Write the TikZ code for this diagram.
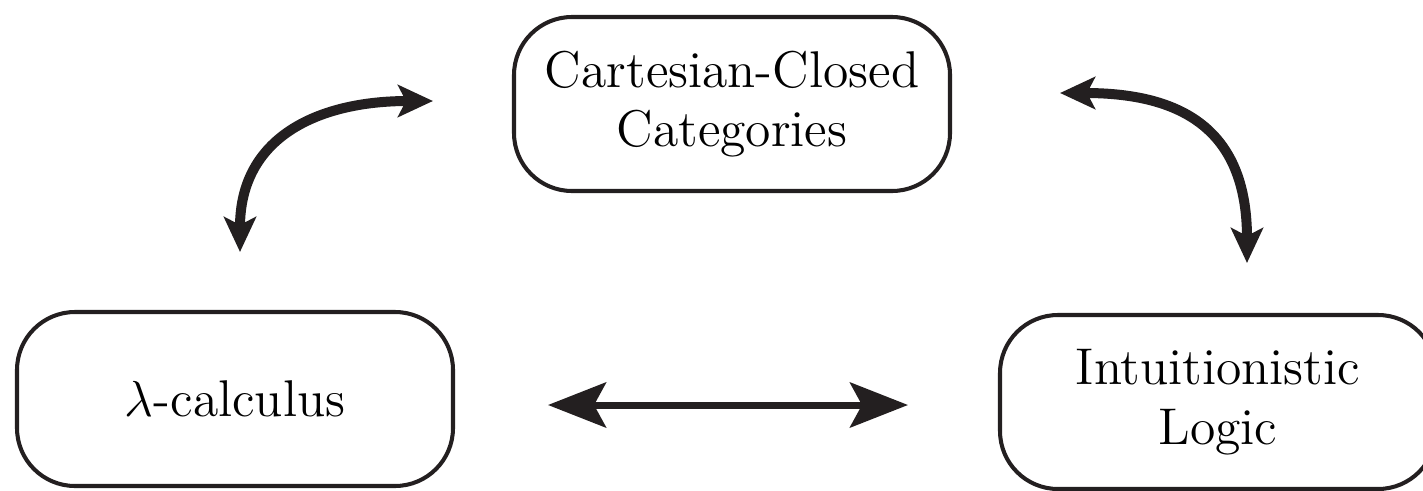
\documentclass[tikz,border=0pt]{standalone}
\usepackage{amsmath,amssymb}
\usepackage{xcolor}
\usepackage{tikz}
\usetikzlibrary{shapes, arrows.meta, positioning}
\definecolor{noir}{RGB}{35,31,32}

\begin{document}
\begin{tikzpicture}[
    boite/.style={draw=noir, line width=1.15pt, rounded corners=0.58cm,
        minimum width=4.36cm, minimum height=1.74cm, align=center,
        font=\fontsize{14.7}{16.9}\selectfont},
    arc/.style={noir, line width=0.1cm,
        {Stealth[length=0.35cm,width=0.32cm,inset=0.08cm]}-{Stealth[length=0.35cm,width=0.32cm,inset=0.08cm]}},
    droite/.style={noir, line width=0.07cm,
        {Stealth[length=0.58cm,width=0.45cm,inset=0.12cm]}-{Stealth[length=0.58cm,width=0.45cm,inset=0.12cm]}}
]
    \useasboundingbox (0,0) rectangle (14.23,4.90);

    % Les trois boites
    \node[boite] (ccc) at (7.32,3.86) {Cartesian-Closed\\Categories};
    \node[boite] (lam) at (2.35,0.91) {$\lambda$-calculus};
    \node[boite] (intu) at (12.18,0.88) {Intuitionistic\\Logic};

    % Extremites des fleches
    \coordinate (g1) at (4.33,3.89);
    \coordinate (g2) at (2.40,2.38);
    \coordinate (d1) at (10.60,3.97);
    \coordinate (d2) at (12.47,2.27);
    \coordinate (b1) at (5.48,0.85);
    \coordinate (b2) at (9.08,0.85);

    % Fleches courbes et fleche du bas
    \draw[arc] (g2) to[out=90, in=180, looseness=1.2] (g1);
    \draw[arc] (d1) to[out=0, in=90, looseness=1.3] (d2);
    \draw[droite] (b1) -- (b2);
\end{tikzpicture}
\end{document}
